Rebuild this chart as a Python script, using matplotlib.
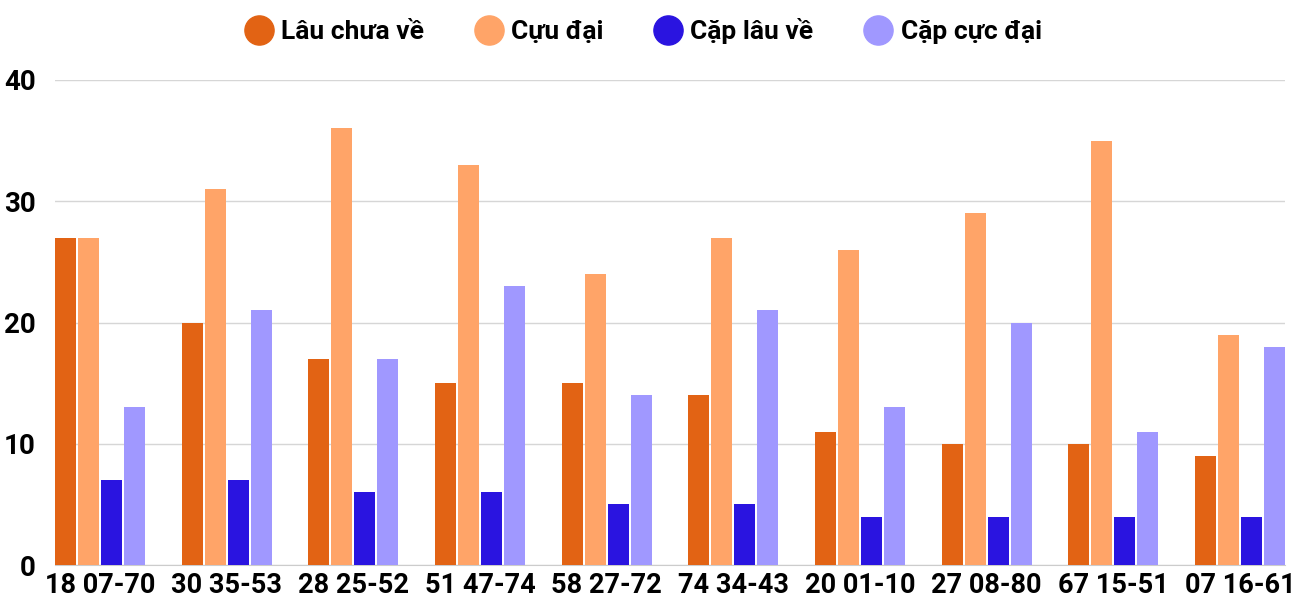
import matplotlib.pyplot as plt
import numpy as np
from matplotlib.lines import Line2D

plt.rcParams['font.family'] = ['Roboto', 'DejaVu Sans']

labels = ["18 07-70", "30 35-53", "28 25-52", "51 47-74", "58 27-72",
          "74 34-43", "20 01-10", "27 08-80", "67 15-51", "07 16-61"]
lau_chua_ve = [27, 20, 17, 15, 15, 14, 11, 10, 10, 9]
cuu_dai = [27, 31, 36, 33, 24, 27, 26, 29, 35, 19]
cap_lau_ve = [7, 7, 6, 6, 5, 5, 4, 4, 4, 4]
cap_cuc_dai = [13, 21, 17, 23, 14, 21, 13, 20, 11, 18]

series = [("Lâu chưa về", lau_chua_ve, "#E26314"),
          ("Cựu đại", cuu_dai, "#FFA468"),
          ("Cặp lâu về", cap_lau_ve, "#2A14E0"),
          ("Cặp cực đại", cap_cuc_dai, "#A098FF")]

fig = plt.figure(figsize=(13, 6), dpi=100)
ax = fig.add_axes([0.0423, 0.0583, 0.9462, 0.8084])

x = np.arange(len(labels))
w = 0.166
step = 0.1818
offs = [-1.5 * step, -0.5 * step, 0.5 * step, 1.5 * step]
for (name, vals, col), o in zip(series, offs):
    ax.bar(x + o, vals, width=w, color=col, zorder=3)

ax.set_xlim(-0.356, 9.356)
ax.set_ylim(0, 40)
ax.set_yticks([0, 10, 20, 30, 40])
ax.grid(axis='y', color='#d6d6d6', linewidth=1, zorder=0)
for s in ['top', 'right', 'left']:
    ax.spines[s].set_visible(False)
ax.spines['bottom'].set_color('#cccccc')
ax.tick_params(length=0)
ax.tick_params(axis='y', pad=14)
ax.tick_params(axis='x', pad=5)
ax.set_xticks(x)
ax.set_xticklabels(labels, fontsize=19.5, fontweight='bold')
for t in ax.get_yticklabels():
    t.set_fontsize(20)
    t.set_fontweight('bold')

handles = [Line2D([], [], marker='o', linestyle='', markersize=21,
                  markerfacecolor=c, markeredgecolor=c) for _, _, c in series]
fig.legend(handles, [s[0] for s in series], loc='center', bbox_to_anchor=(0.494, 0.948),
           ncol=4, frameon=False, prop={'size': 19, 'weight': 'bold'},
           handletextpad=0.25, columnspacing=1.85, handlelength=1.2)

fig.savefig("out.png", dpi=100)
